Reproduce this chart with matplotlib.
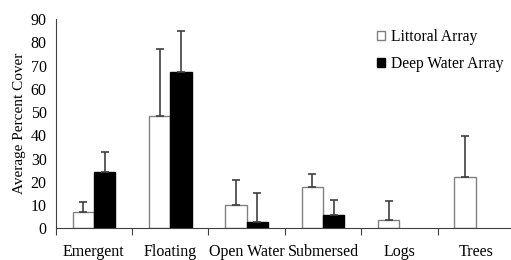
import numpy as np
import matplotlib.pyplot as plt

categories = ["Emergent", "Floating", "Open Water", "Submersed", "Logs", "Trees"]
littoral = [7.0, 48.2, 10.1, 17.6, 3.4, 22.0]
littoral_err = [4.3, 28.9, 10.5, 5.7, 8.4, 17.6]
deep = [24.0, 67.4, 2.8, 5.6, 0, 0]
deep_err = [8.9, 17.3, 12.5, 6.5, 0, 0]

plt.rcParams['font.family'] = ['Liberation Serif', 'DejaVu Serif']

fig = plt.figure(figsize=(5.11, 2.6), dpi=100)
ax = fig.add_axes([55.7 / 511, (260 - 228.3) / 260, (511 - 55.7) / 511, (228.3 - 19) / 260])

x = np.arange(len(categories))
w = 0.28
ax.bar(x - w / 2, littoral, w, color='white', edgecolor='#808080', linewidth=1,
       label='Littoral Array', zorder=2)
# only the non-zero deep water bars are drawn
d_idx = [i for i in range(len(deep)) if deep[i] > 0]
ax.bar(x[d_idx] + w / 2, [deep[i] for i in d_idx], w, color='black', edgecolor='black',
       linewidth=1, label='Deep Water Array', zorder=2)
ax.errorbar(x - w / 2, littoral, yerr=[np.zeros(6), littoral_err], fmt='none',
            ecolor='#404040', elinewidth=1.2, capsize=3, capthick=1.2, zorder=3)
ax.errorbar(x[d_idx] + w / 2, [deep[i] for i in d_idx],
            yerr=[np.zeros(len(d_idx)), [deep_err[i] for i in d_idx]], fmt='none',
            ecolor='#404040', elinewidth=1.2, capsize=3, capthick=1.2, zorder=3)

ax.set_xlim(-0.5, len(categories) - 0.5 - 0.04)
ax.set_ylim(0, 90)
ax.set_yticks(range(0, 91, 10))
ax.tick_params(axis='y', length=0, labelsize=11.5, pad=6.5)
ax.set_xticks(np.arange(len(categories)) - 0.5, minor=False)
ax.set_xticklabels([])
ax.set_xticks(x, minor=True)
ax.set_xticklabels(categories, minor=True, fontsize=11.5)
ax.tick_params(axis='x', which='major', length=5, direction='out', color='#404040')
ax.tick_params(axis='x', which='minor', length=0, pad=11)
ax.spines['top'].set_visible(False)
ax.spines['right'].set_visible(False)
ax.spines['left'].set_color('#404040')
ax.spines['bottom'].set_color('#404040')
ax.set_ylabel("Average Percent Cover", fontsize=11, labelpad=3.5)

ax.legend(loc='upper left', bbox_to_anchor=(0.675, 1.02), frameon=False, fontsize=11.2,
          handlelength=0.5, handleheight=0.5, handletextpad=0.4, labelspacing=0.7)

fig.savefig("out.png", dpi=100)
